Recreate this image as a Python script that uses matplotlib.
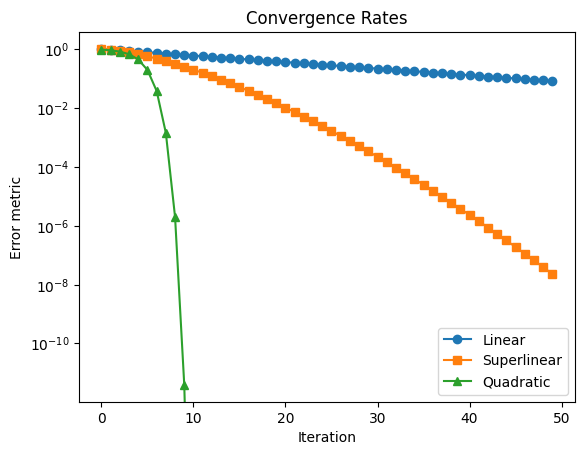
import numpy as np
from matplotlib import pyplot as plt

iterations = list(range(50))

linear = [
    1.0, 0.95, 0.9025, 0.857, 0.815, 0.774, 0.735, 0.698, 0.663, 0.630,
    0.599, 0.569, 0.540, 0.513, 0.488, 0.463, 0.440, 0.418, 0.397, 0.377,
    0.358, 0.341, 0.324, 0.307, 0.292, 0.277, 0.264, 0.250, 0.238, 0.226,
    0.215, 0.204, 0.194, 0.184, 0.175, 0.166, 0.158, 0.150, 0.142, 0.135,
    0.129, 0.122, 0.116, 0.110, 0.105, 0.0994, 0.0945, 0.0897, 0.0853, 0.0810,
]

superlinear = [
    1.0, 0.950, 0.865, 0.766, 0.663, 0.564, 0.471, 0.387, 0.313, 0.250,
    0.198, 0.154, 0.119, 0.0903, 0.0681, 0.0508, 0.0375, 0.0275, 0.0199, 0.0143,
    0.0102, 7.18e-3, 5.02e-3, 3.49e-3, 2.40e-3, 1.64e-3, 1.11e-3, 7.49e-4, 5.00e-4, 3.32e-4,
    2.18e-4, 1.43e-4, 9.27e-5, 5.98e-5, 3.83e-5, 2.44e-5, 1.54e-5, 9.69e-6, 6.05e-6, 3.75e-6,
    2.31e-6, 1.42e-6, 8.63e-7, 5.23e-7, 3.15e-7, 1.88e-7, 1.12e-7, 6.63e-8, 3.90e-8, 2.28e-8,
]

quad_iterations = list(range(11))
quadratic = [
    0.95, 0.9025, 0.8145, 0.6634, 0.4401, 0.1937, 0.03752, 1.408e-3, 1.98e-6, 3.93e-12,
    1.55e-23,
]


def make_plot():
    fig, ax = plt.subplots(figsize=(6.4, 4.8), dpi=100)
    ax.plot(iterations, linear, "o-", label="Linear")
    ax.plot(iterations, superlinear, "s-", label="Superlinear")
    ax.plot(quad_iterations, quadratic, "^-", label="Quadratic")
    ax.set_yscale("log")

    # autoscale would run down to the underflowed tail, so pin it like the original
    ax.set_xlim(-2.45, 51.45)
    ax.set_ylim(10 ** -11.98, 10 ** 0.572)

    ax.set_title("Convergence Rates")
    ax.set_xlabel("Iteration")
    ax.set_ylabel("Error metric")
    ax.legend(loc="lower right")

    fig.savefig("out.png", bbox_inches="tight")


if __name__ == "__main__":
    make_plot()
